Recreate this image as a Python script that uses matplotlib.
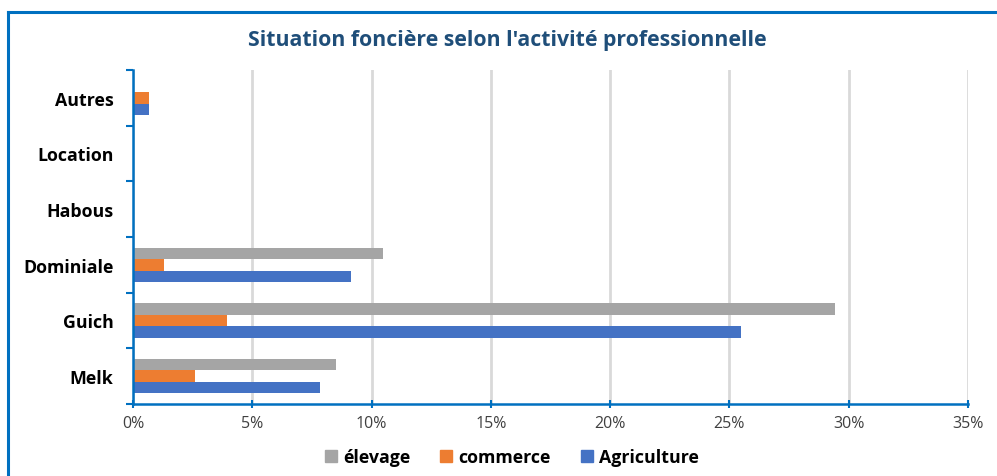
import matplotlib.pyplot as plt
from matplotlib.lines import Line2D
from matplotlib.ticker import FuncFormatter
import numpy as np

plt.rcParams['font.family'] = ['Open Sans', 'DejaVu Sans']

# données
categories = ['Melk', 'Guich', 'Dominiale', 'Habous', 'Location', 'Autres']
elevage = [8.50, 29.41, 10.46, 0, 0, 0]
commerce = [2.61, 3.92, 1.31, 0, 0, 0.65]
agriculture = [7.84, 25.49, 9.15, 0, 0, 0.65]

c_elev = '#A5A5A5'
c_comm = '#ED7D31'
c_agri = '#4472C4'
c_axis = '#0070C0'

fig = plt.figure(figsize=(9.97, 4.77), dpi=100)
ax = fig.add_axes([0.1334, 0.151, 0.8375, 0.7002])

y = np.arange(len(categories))
h = 0.205
ax.barh(y + h, elevage, height=h, color=c_elev, zorder=3)
ax.barh(y, commerce, height=h, color=c_comm, zorder=3)
ax.barh(y - h, agriculture, height=h, color=c_agri, zorder=3)

ax.set_xlim(0, 35)
ax.set_ylim(-0.5, len(categories) - 0.5)
ax.set_xticks(np.arange(0, 36, 5))
ax.xaxis.set_major_formatter(FuncFormatter(lambda v, p: f'{v:.0f}%'))
ax.set_yticks(y)
ax.set_yticklabels(categories, fontsize=12.8, fontweight='bold', color='black')
ax.set_yticks(np.arange(-0.5, len(categories), 1), minor=True)
ax.tick_params(axis='y', which='major', length=0, pad=14)
ax.tick_params(axis='y', which='minor', length=5, width=1.5, color=c_axis, direction='out')
ax.tick_params(axis='x', length=6, width=1.5, color=c_axis, direction='inout',
               labelsize=11.5, labelcolor='#404040', pad=5)

ax.grid(axis='x', color='#D9D9D9', linewidth=2, zorder=0)
for s in ['top', 'right']:
    ax.spines[s].set_visible(False)
for s in ['left', 'bottom']:
    ax.spines[s].set_color(c_axis)
    ax.spines[s].set_linewidth(1.8)
    ax.spines[s].set_zorder(4)

fig.text(0.509, 0.916, "Situation foncière selon l'activité professionnelle",
         ha='center', va='center', fontsize=15.3, fontweight='bold', color='#1F4E79')

handles = [Line2D([], [], marker='s', linestyle='', markersize=8, color=c)
           for c in (c_elev, c_comm, c_agri)]
fig.legend(handles, ['élevage', 'commerce', 'Agriculture'], loc='center',
           bbox_to_anchor=(0.513, 0.040), ncol=3, frameon=False,
           prop={'size': 12.8, 'weight': 'bold'}, handlelength=0.8,
           handletextpad=0.3, columnspacing=1.6)

# cadre
fig.add_artist(Line2D([0.008, 0.008], [0, 0.973], color=c_axis, linewidth=2.2))
fig.add_artist(Line2D([0.008, 1.0], [0.973, 0.973], color=c_axis, linewidth=2.2))

fig.savefig('out.png', dpi=100)
